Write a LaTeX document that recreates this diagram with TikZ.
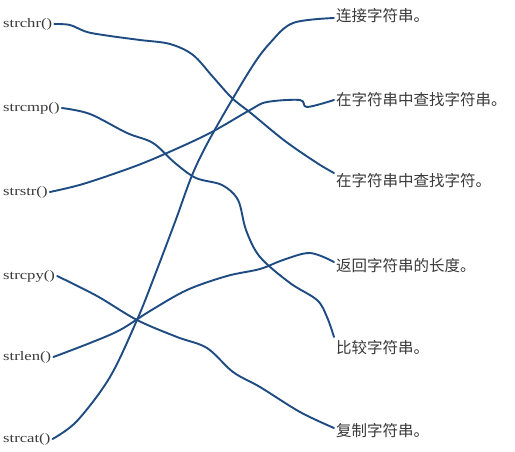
\documentclass[tikz,border=0pt]{standalone}
\usepackage{fontspec}
\setmainfont{Liberation Serif}
\newfontfamily\cjk{Noto Sans CJK SC}
\definecolor{wire}{HTML}{1E4B82}
\definecolor{txt}{HTML}{3A3A3A}
\begin{document}
\begin{tikzpicture}[x=1pt,y=-1pt,
  fn/.style={anchor=west,inner sep=2pt,text=txt,font=\fontsize{13}{13}\selectfont},
  desc/.style={anchor=west,inner sep=2pt,text=txt,font=\cjk\fontsize{15.5}{15.5}\selectfont},
  wirestyle/.style={draw=wire,line width=1.9pt,line cap=round,line join=round}]
\fill[white] (0,0) rectangle (515,452);
\useasboundingbox (0,0) rectangle (515,452);
% left labels
\node[fn] (l1) at (1,24) {\scalebox{1.28}[1]{strchr()}};
\node[fn] (l2) at (1,108) {\scalebox{1.28}[1]{strcmp()}};
\node[fn] (l3) at (1,192) {\scalebox{1.28}[1]{strstr()}};
\node[fn] (l4) at (1,276) {\scalebox{1.28}[1]{strcpy()}};
\node[fn] (l5) at (1,357) {\scalebox{1.28}[1]{strlen()}};
\node[fn] (l6) at (1,439) {\scalebox{1.28}[1]{strcat()}};
% right labels
\node[desc] (r1) at (334,16) {连接字符串。};
\node[desc] (r2) at (334,100) {在字符串中查找字符串。};
\node[desc] (r3) at (334,181) {在字符串中查找字符。};
\node[desc] (r4) at (334,266) {返回字符串的长度。};
\node[desc] (r5) at (334,348) {比较字符串。};
\node[desc] (r6) at (334,431) {复制字符串。};
% connectors
\draw[wirestyle] plot[smooth,tension=0.55] coordinates {(l1.east) (70,25) (87,32) (110,36) (140,40) (170,44) (193,55) (213,77) (232,98) (252,114) (285,141) (317,163) ([yshift=8pt]r3.west)};
\draw[wirestyle] plot[smooth,tension=0.55] coordinates {(l2.east) (90,114) (127,133) (153,143) (175,163) (196,178) (222,185) (238,200) (246,230) (260,257) (290,283) (317,300) (327,317) ([yshift=11pt]r5.west)};
\draw[wirestyle] plot[smooth,tension=0.55] coordinates {(l3.east) (83,184) (133,167) (167,153) (210,133) (250,110) (267,102) (300,100) (307,107) (r2.west)};
\draw[wirestyle] plot[smooth,tension=0.55] coordinates {(l4.east) (97,296) (137,320) (177,337) (207,348) (233,372) (260,387) (300,412) ([yshift=3pt]r6.west)};
\draw[wirestyle] plot[smooth,tension=0.55] coordinates {(l5.east) (90,343) (120,330) (150,311) (187,290) (227,276) (260,269) (283,260) (310,253) ([yshift=4pt]r4.west)};
\draw[wirestyle] plot[smooth,tension=0.55] coordinates {(l6.east) (77,421) (110,377) (137,320) (153,280) (175,222) (193,173) (213,133) (250,70) (270,43) (293,23) ([yshift=-2pt]r1.west)};
\end{tikzpicture}
\end{document}
